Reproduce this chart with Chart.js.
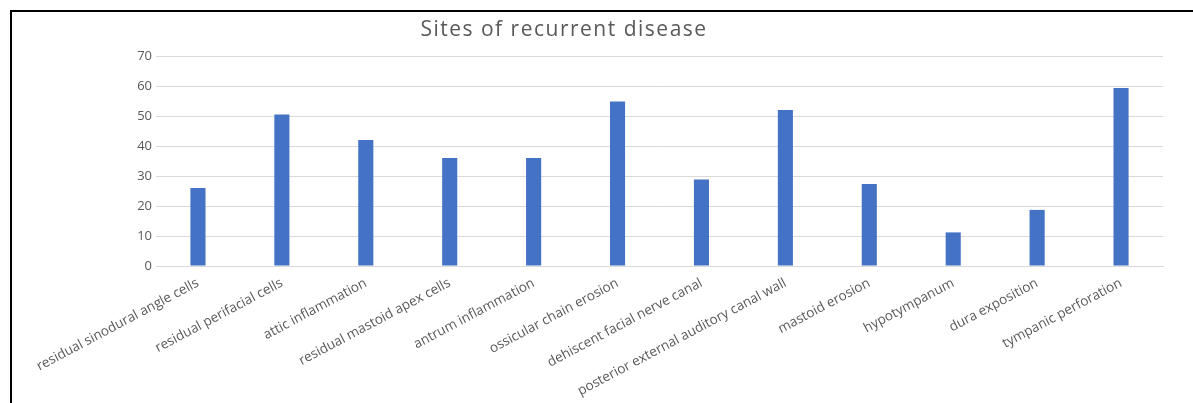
<!DOCTYPE html>
<html>
<head>
<meta charset="utf-8">
<script src="https://cdn.jsdelivr.net/npm/chart.js@4"></script>
<style>
  html, body { margin: 0; padding: 0; background: #fff; overflow: hidden; }
  #wrap { position: relative; width: 1193px; height: 403px; }
  #frame { position: absolute; left: 10px; top: 10px; width: 1300px; height: 500px; border: 2px solid #000; box-sizing: border-box; }
  #title { position: absolute; left: 0; top: 14px; width: 1128px; text-align: center; letter-spacing: 1.5px;
           font-family: "Open Sans", sans-serif; font-size: 21px; color: #595959; }
  #box { position: absolute; left: 0; top: 0; width: 1193px; height: 403px; }
</style>
</head>
<body>
<div id="wrap">
  <div id="frame"></div>
  <div id="box"><canvas id="sites"></canvas></div>
  <div id="title">Sites of recurrent disease</div>
</div>
<script>
const labels = ["residual sinodural angle cells", "residual perifacial cells", "attic inflammation",
  "residual mastoid apex cells", "antrum inflammation", "ossicular chain erosion",
  "dehiscent facial nerve canal", "posterior external auditory canal wall", "mastoid erosion",
  "hypotympanum", "dura exposition", "tympanic perforation"];
const values = [26, 50.5, 42, 36, 36, 54.8, 28.8, 52, 27.3, 11.2, 18.7, 59.3];
const yTicks = [0, 10, 20, 30, 40, 50, 60, 70];

var ctx = document.getElementById("sites").getContext("2d");
let options = {
  responsive: true,
  maintainAspectRatio: false,
  animation: false,
  layout: { padding: { left: 10, top: 56, right: 30, bottom: 0 } },
  plugins: {
    legend: { display: false },
    tooltip: { enabled: false }
  },
  scales: {
    x: {
      grid: { display: false },
      border: { color: "#d9d9d9" },
      ticks: {
        autoSkip: false,
        minRotation: 28,
        maxRotation: 28,
        padding: 1,
        color: "#595959",
        font: { family: "Open Sans", size: 13.5 }
      },
      afterFit: function (scale) { scale.height = 137; }
    },
    y: {
      min: 0,
      max: 70,
      afterBuildTicks: function (scale) { scale.ticks = yTicks.map(v => ({ value: v })); },
      grid: { color: "#d9d9d9", drawTicks: false },
      border: { display: false },
      ticks: {
        padding: 4,
        color: "#595959",
        font: { family: "Open Sans", size: 13 }
      },
      afterFit: function (scale) { scale.width = 146; }
    }
  }
};

new Chart(ctx, {
  type: "bar",
  data: {
    labels: labels,
    datasets: [{
      data: values,
      backgroundColor: "#4472C4",
      categoryPercentage: 1,
      barPercentage: 0.18
    }]
  },
  options: options
});
</script>
</body>
</html>
